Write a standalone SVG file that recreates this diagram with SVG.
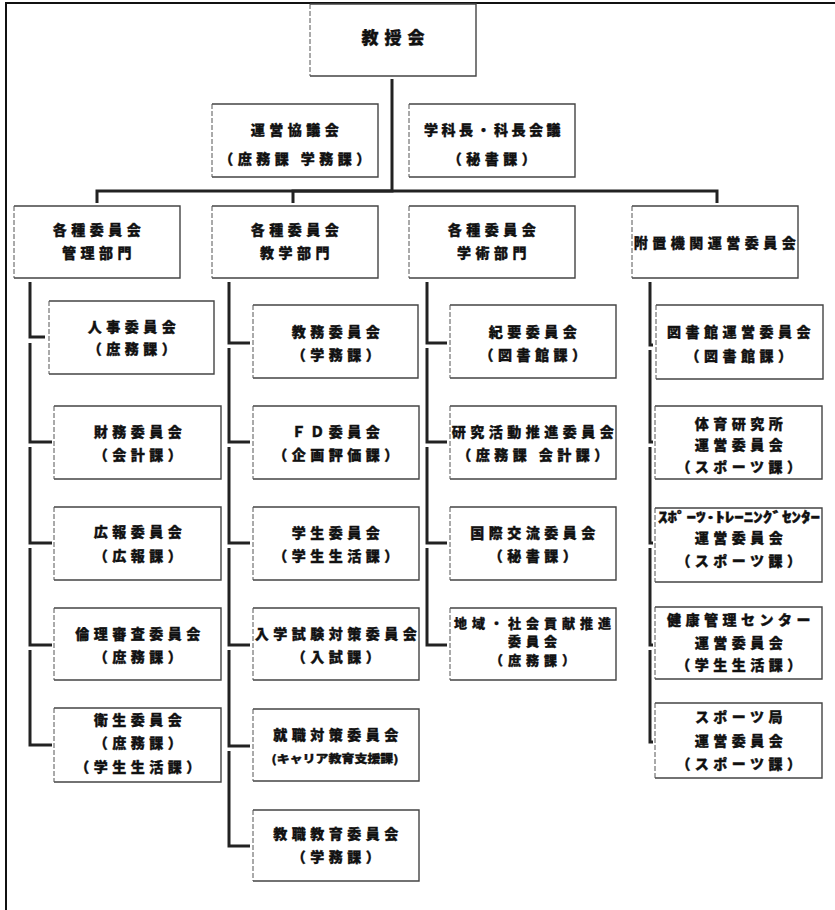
<svg xmlns="http://www.w3.org/2000/svg" width="835" height="910" viewBox="0 0 835 910">
<style>
.b{fill:none;stroke:#444;stroke-width:1.4}
.d{fill:none;stroke:#555;stroke-width:1;stroke-dasharray:5 2}
.t{font-family:"Noto Sans CJK JP","Noto Sans CJK SC",sans-serif;font-weight:900;font-size:14px;letter-spacing:4.5px;text-anchor:middle;fill:#111;stroke:#111;stroke-width:0.35}
.c{fill:none;stroke:#222;stroke-width:3}
.f{fill:none;stroke:#111;stroke-width:2}
</style>
<rect x="0" y="0" width="835" height="910" fill="#fff"/>
<path class="f" d="M6 910 V3 H835"/>
<g id="connectors">
<path class="c" d="M392 79 V191 H97 V203"/>
<path class="c" d="M392 191 H293 V203"/>
<path class="c" d="M392 191 H717 V203"/>
<path class="c" d="M30 282 V337 H45"/>
<path class="c" d="M30 343 V442 H52"/>
<path class="c" d="M30 447 V543 H52"/>
<path class="c" d="M30 548 V645 H52"/>
<path class="c" d="M30 650 V745 H52"/>
<path class="c" d="M229 282 V343 H250"/>
<path class="c" d="M229 348 V442 H250"/>
<path class="c" d="M229 447 V543 H250"/>
<path class="c" d="M229 548 V645 H250"/>
<path class="c" d="M229 650 V746 H250"/>
<path class="c" d="M229 751 V846 H250"/>
<path class="c" d="M427 282 V343 H447"/>
<path class="c" d="M427 348 V442 H447"/>
<path class="c" d="M427 447 V543 H447"/>
<path class="c" d="M427 548 V645 H447"/>
<path class="c" d="M650 282 V345 H653"/>
<path class="c" d="M650 350 V442 H653"/>
<path class="c" d="M650 447 V543 H653"/>
<path class="c" d="M650 548 V645 H653"/>
<path class="c" d="M650 650 V742 H653"/>
</g>
<g id="n0"><path class="b" d="M310 4 H476 V76 H310"/><path class="d" d="M310 4 V76"/><text class="t" x="396" y="44" style="font-size:17px;letter-spacing:6px">教授会</text></g>
<g id="n1"><path class="b" d="M212 104 H378 V177 H212"/><path class="d" d="M212 104 V177"/><text class="t" x="297" y="135">運営協議会</text><text class="t" x="297" y="164">（庶務課 学務課）</text></g>
<g id="n2"><path class="b" d="M409 104 H575 V177 H409"/><path class="d" d="M409 104 V177"/><text class="t" x="494" y="135" style="letter-spacing:3.5px">学科長・科長会議</text><text class="t" x="494" y="164">（秘書課）</text></g>
<g id="n3"><path class="b" d="M14 206 H180 V278 H14"/><path class="d" d="M14 206 V278"/><text class="t" x="99" y="235">各種委員会</text><text class="t" x="99" y="258">管理部門</text></g>
<g id="n4"><path class="b" d="M212 206 H378 V278 H212"/><path class="d" d="M212 206 V278"/><text class="t" x="297" y="235">各種委員会</text><text class="t" x="297" y="258">教学部門</text></g>
<g id="n5"><path class="b" d="M409 206 H575 V278 H409"/><path class="d" d="M409 206 V278"/><text class="t" x="494" y="235">各種委員会</text><text class="t" x="494" y="258">学術部門</text></g>
<g id="n6"><path class="b" d="M632 206 H798 V278 H632"/><path class="d" d="M632 206 V278"/><text class="t" x="717" y="248">附置機関運営委員会</text></g>
<g id="n7"><path class="b" d="M49 301 H214 V374 H49"/><path class="d" d="M49 301 V374"/><text class="t" x="134" y="332">人事委員会</text><text class="t" x="134" y="354">（庶務課）</text></g>
<g id="n8"><path class="b" d="M54 406 H221 V479 H54"/><path class="d" d="M54 406 V479"/><text class="t" x="140" y="437">財務委員会</text><text class="t" x="140" y="460">（会計課）</text></g>
<g id="n9"><path class="b" d="M54 507 H221 V580 H54"/><path class="d" d="M54 507 V580"/><text class="t" x="140" y="537">広報委員会</text><text class="t" x="140" y="561">（広報課）</text></g>
<g id="n10"><path class="b" d="M54 608 H221 V680 H54"/><path class="d" d="M54 608 V680"/><text class="t" x="140" y="639">倫理審査委員会</text><text class="t" x="140" y="662">（庶務課）</text></g>
<g id="n11"><path class="b" d="M54 708 H221 V782 H54"/><path class="d" d="M54 708 V782"/><text class="t" x="140" y="725">衛生委員会</text><text class="t" x="140" y="748">（庶務課）</text><text class="t" x="140" y="772">（学生生活課）</text></g>
<g id="n12"><path class="b" d="M253 305 H418 V378 H253"/><path class="d" d="M253 305 V378"/><text class="t" x="338" y="337">教務委員会</text><text class="t" x="338" y="360">（学務課）</text></g>
<g id="n13"><path class="b" d="M253 406 H419 V479 H253"/><path class="d" d="M253 406 V479"/><text class="t" x="338" y="437">ＦＤ委員会</text><text class="t" x="338" y="460">（企画評価課）</text></g>
<g id="n14"><path class="b" d="M253 507 H419 V580 H253"/><path class="d" d="M253 507 V580"/><text class="t" x="338" y="538">学生委員会</text><text class="t" x="338" y="561">（学生生活課）</text></g>
<g id="n15"><path class="b" d="M253 608 H419 V680 H253"/><path class="d" d="M253 608 V680"/><text class="t" x="338" y="639">入学試験対策委員会</text><text class="t" x="338" y="662">（入試課）</text></g>
<g id="n16"><path class="b" d="M253 709 H419 V781 H253"/><path class="d" d="M253 709 V781"/><text class="t" x="338" y="740">就職対策委員会</text><text class="t" x="335" y="763" style="font-size:11px;letter-spacing:0" textLength="127" lengthAdjust="spacingAndGlyphs">(キャリア教育支援課)</text></g>
<g id="n17"><path class="b" d="M253 810 H419 V881 H253"/><path class="d" d="M253 810 V881"/><text class="t" x="338" y="839">教職教育委員会</text><text class="t" x="338" y="862">（学務課）</text></g>
<g id="n18"><path class="b" d="M450 305 H616 V378 H450"/><path class="d" d="M450 305 V378"/><text class="t" x="535" y="337">紀要委員会</text><text class="t" x="535" y="360">（図書館課）</text></g>
<g id="n19"><path class="b" d="M450 406 H616 V479 H450"/><path class="d" d="M450 406 V479"/><text class="t" x="535" y="437">研究活動推進委員会</text><text class="t" x="535" y="460">（庶務課 会計課）</text></g>
<g id="n20"><path class="b" d="M450 507 H616 V580 H450"/><path class="d" d="M450 507 V580"/><text class="t" x="535" y="538">国際交流委員会</text><text class="t" x="535" y="561">（秘書課）</text></g>
<g id="n21"><path class="b" d="M450 608 H616 V680 H450"/><path class="d" d="M450 608 V680"/><text class="t" x="535" y="628" style="font-size:13px;letter-spacing:5px">地域・社会貢献推進</text><text class="t" x="535" y="646" style="font-size:13px;letter-spacing:5px">委員会</text><text class="t" x="535" y="665" style="font-size:13px;letter-spacing:5px">（庶務課）</text></g>
<g id="n22"><path class="b" d="M656 305 H823 V379 H656"/><path class="d" d="M656 305 V379"/><text class="t" x="741" y="337">図書館運営委員会</text><text class="t" x="741" y="361">（図書館課）</text></g>
<g id="n23"><path class="b" d="M655 406 H822 V479 H655"/><path class="d" d="M655 406 V479"/><text class="t" x="741" y="429">体育研究所</text><text class="t" x="741" y="450">運営委員会</text><text class="t" x="741" y="472">（スポーツ課）</text></g>
<g id="n24"><path class="b" d="M655 508 H822 V582 H655"/><path class="d" d="M655 508 V582"/><text class="t" x="739" y="522" style="letter-spacing:0" textLength="162" lengthAdjust="spacingAndGlyphs">ｽﾎﾟｰﾂ･ﾄﾚｰﾆﾝｸﾞｾﾝﾀｰ</text><text class="t" x="741" y="543">運営委員会</text><text class="t" x="741" y="566">（スポーツ課）</text></g>
<g id="n25"><path class="b" d="M655 607 H822 V679 H655"/><path class="d" d="M655 607 V679"/><text class="t" x="741" y="625">健康管理センター</text><text class="t" x="741" y="648">運営委員会</text><text class="t" x="741" y="670">（学生生活課）</text></g>
<g id="n26"><path class="b" d="M655 703 H822 V778 H655"/><path class="d" d="M655 703 V778"/><text class="t" x="741" y="722">スポーツ局</text><text class="t" x="741" y="746">運営委員会</text><text class="t" x="741" y="769">（スポーツ課）</text></g>
</svg>
